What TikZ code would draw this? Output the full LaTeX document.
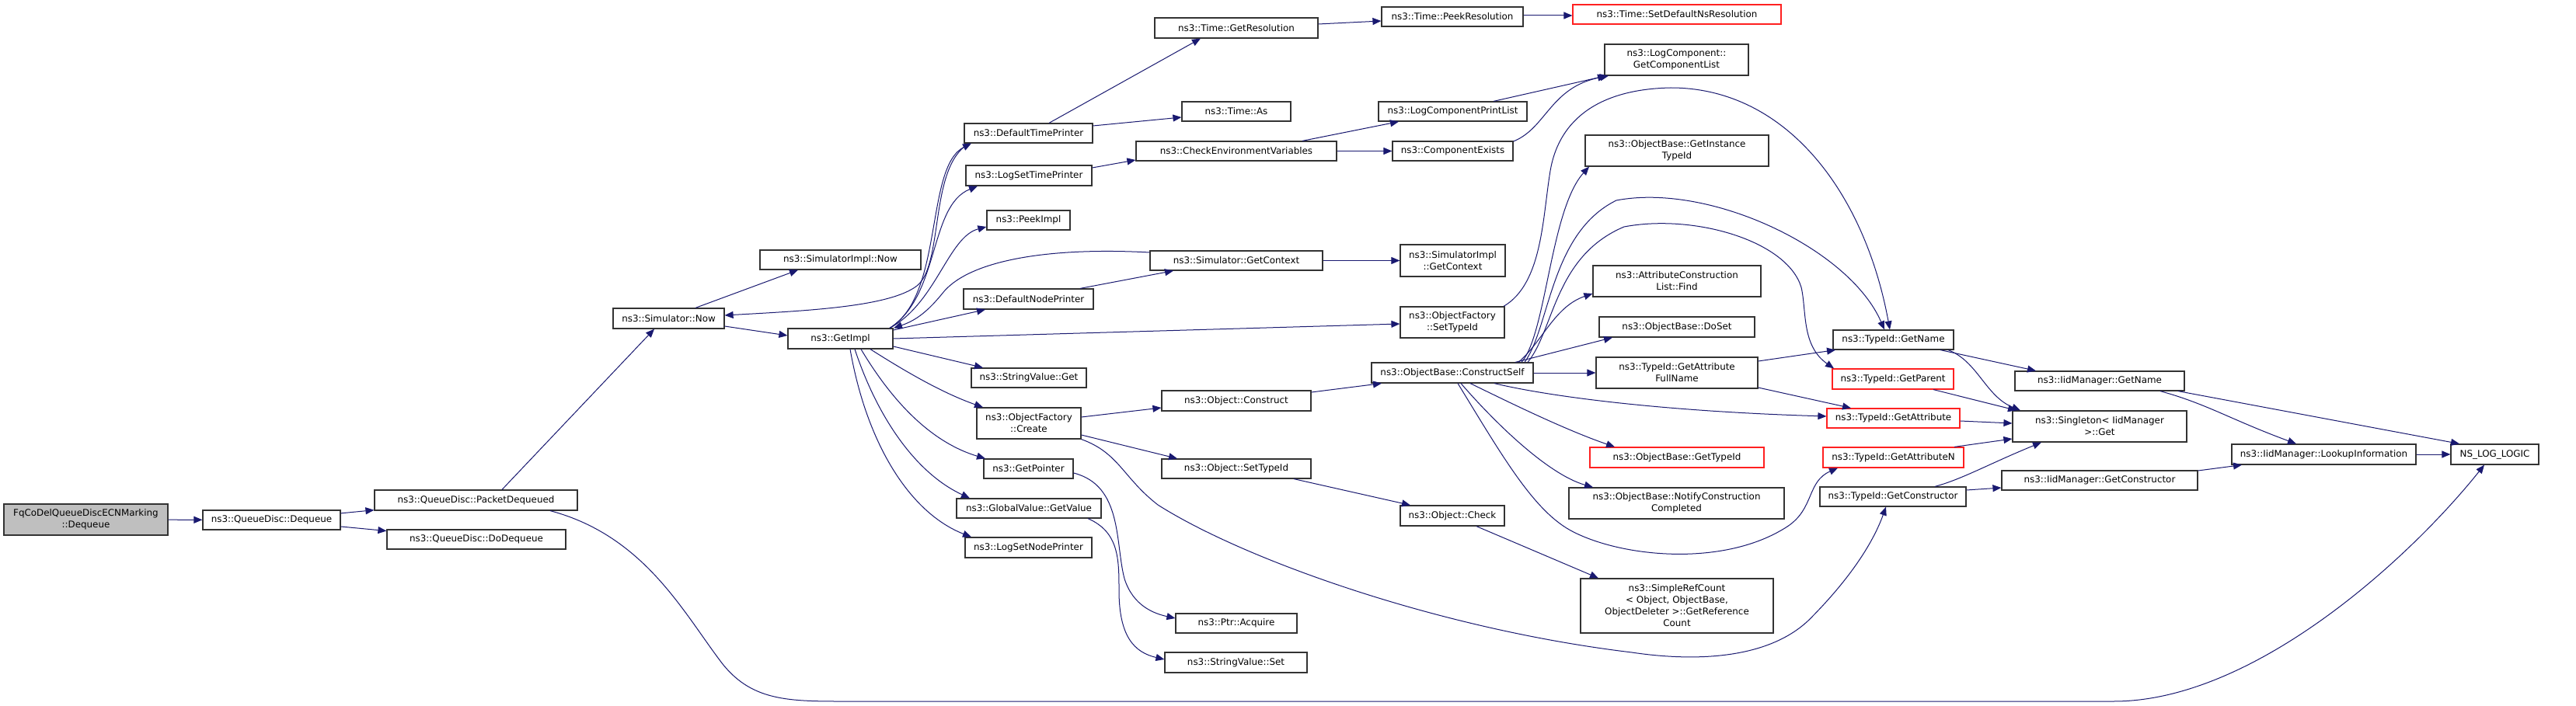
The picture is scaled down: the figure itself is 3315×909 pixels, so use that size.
\documentclass[tikz,border=0pt]{standalone}
\usepackage{fontspec}
\setmainfont{DejaVu Sans}
\usetikzlibrary{arrows.meta}
\definecolor{edgec}{HTML}{191970}
\definecolor{rootfill}{HTML}{BFBFBF}
\definecolor{boxc}{HTML}{333333}
\definecolor{redc}{HTML}{FF2020}
\tikzset{
  nd/.style={draw=boxc, line width=1.2pt, fill=white, inner sep=0pt, align=center, text=black},
  ndred/.style={nd, draw=redc},
  ndroot/.style={nd, fill=rootfill},
  edge/.style={draw=edgec, line width=1pt, -{Triangle[length=11pt,width=9pt]}}
}
\begin{document}
\begin{tikzpicture}[x=1pt, y=-1pt, font=\fontsize{11.9}{15}\selectfont]
\fill[white] (0,0) rectangle (3315,909);
\useasboundingbox (0,0) rectangle (3315,909);
% nodes
\node[ndroot, minimum width=211pt, minimum height=40pt] (root) at (110.5,669) {FqCoDelQueueDiscECNMarking\\::Dequeue};
\node[nd, minimum width=177pt, minimum height=25pt] (dq) at (349.5,669.5) {ns3::QueueDisc::Dequeue};
\node[nd, minimum width=261pt, minimum height=26pt] (pd) at (612.5,644) {ns3::QueueDisc::PacketDequeued};
\node[nd, minimum width=230pt, minimum height=25pt] (dd) at (613,694.5) {ns3::QueueDisc::DoDequeue};
\node[nd, minimum width=143pt, minimum height=26pt] (snow) at (860.5,410) {ns3::Simulator::Now};
\node[nd, minimum width=207pt, minimum height=25pt] (sinow) at (1081.5,334.5) {ns3::SimulatorImpl::Now};
\node[nd, minimum width=135pt, minimum height=26pt] (gi) at (1081.5,436) {ns3::GetImpl};
\node[nd, minimum width=165pt, minimum height=25pt] (dtp) at (1323.5,171.5) {ns3::DefaultTimePrinter};
\node[nd, minimum width=162pt, minimum height=26pt] (lstp) at (1324,226) {ns3::LogSetTimePrinter};
\node[nd, minimum width=107pt, minimum height=25pt] (peek) at (1323.5,283.5) {ns3::PeekImpl};
\node[nd, minimum width=167pt, minimum height=26pt] (dnp) at (1323.5,385) {ns3::DefaultNodePrinter};
\node[nd, minimum width=148pt, minimum height=25pt] (svget) at (1324,486.5) {ns3::StringValue::Get};
\node[nd, minimum width=134pt, minimum height=40pt] (ofc) at (1324,545) {ns3::ObjectFactory\\::Create};
\node[nd, minimum width=115pt, minimum height=25pt] (gp) at (1323.5,603.5) {ns3::GetPointer};
\node[nd, minimum width=186pt, minimum height=25pt] (gvgv) at (1324,654.5) {ns3::GlobalValue::GetValue};
\node[nd, minimum width=163pt, minimum height=26pt] (lsnp) at (1323.5,705) {ns3::LogSetNodePrinter};
\node[nd, minimum width=210pt, minimum height=26pt] (tgr) at (1591,36) {ns3::Time::GetResolution};
\node[nd, minimum width=140pt, minimum height=25pt] (tas) at (1591,143.5) {ns3::Time::As};
\node[nd, minimum width=258pt, minimum height=25pt] (cev) at (1591,194.5) {ns3::CheckEnvironmentVariables};
\node[nd, minimum width=222pt, minimum height=25pt] (sgc) at (1591,335.5) {ns3::Simulator::GetContext};
\node[nd, minimum width=192pt, minimum height=26pt] (oconst) at (1591,516) {ns3::Object::Construct};
\node[nd, minimum width=192pt, minimum height=25pt] (ostid) at (1591,603.5) {ns3::Object::SetTypeId};
\node[nd, minimum width=156pt, minimum height=25pt] (pacq) at (1591,802.5) {ns3::Ptr::Acquire};
\node[nd, minimum width=183pt, minimum height=26pt] (svset) at (1590.5,853) {ns3::StringValue::Set};
\node[nd, minimum width=182pt, minimum height=25pt] (tpr) at (1869,21.5) {ns3::Time::PeekResolution};
\node[nd, minimum width=191pt, minimum height=25pt] (lcpl) at (1869.5,143.5) {ns3::LogComponentPrintList};
\node[nd, minimum width=155pt, minimum height=25pt] (cex) at (1869.5,194.5) {ns3::ComponentExists};
\node[nd, minimum width=135pt, minimum height=41pt] (sigc) at (1869.5,335.5) {ns3::SimulatorImpl\\::GetContext};
\node[nd, minimum width=134pt, minimum height=40pt] (ofst) at (1869,415) {ns3::ObjectFactory\\::SetTypeId};
\node[nd, minimum width=208pt, minimum height=26pt] (ocs) at (1869,480) {ns3::ObjectBase::ConstructSelf};
\node[nd, minimum width=134pt, minimum height=26pt] (ochk) at (1869,664) {ns3::Object::Check};
\node[ndred, minimum width=268pt, minimum height=25pt] (sdnr) at (2158,18.5) {ns3::Time::SetDefaultNsResolution};
\node[nd, minimum width=185pt, minimum height=40pt] (lcgcl) at (2157.5,77) {ns3::LogComponent::\\GetComponentList};
\node[nd, minimum width=236pt, minimum height=40pt] (obgit) at (2158,194) {ns3::ObjectBase::GetInstance\\TypeId};
\node[nd, minimum width=216pt, minimum height=40pt] (acl) at (2158,362) {ns3::AttributeConstruction\\List::Find};
\node[nd, minimum width=200pt, minimum height=26pt] (obds) at (2158,421) {ns3::ObjectBase::DoSet};
\node[nd, minimum width=208pt, minimum height=40pt] (tgafn) at (2158,480) {ns3::TypeId::GetAttribute\\FullName};
\node[ndred, minimum width=224pt, minimum height=26pt] (obgt) at (2158,589) {ns3::ObjectBase::GetTypeId};
\node[nd, minimum width=277pt, minimum height=40pt] (obncc) at (2157.5,648) {ns3::ObjectBase::NotifyConstruction\\Completed};
\node[nd, minimum width=248pt, minimum height=70pt] (src) at (2158,780) {ns3::SimpleRefCount\\< Object, ObjectBase,\\ObjectDeleter >::GetReference\\Count};
\node[nd, minimum width=155pt, minimum height=25pt] (tgn) at (2436.5,437.5) {ns3::TypeId::GetName};
\node[ndred, minimum width=156pt, minimum height=26pt] (tgp) at (2436,488) {ns3::TypeId::GetParent};
\node[ndred, minimum width=171pt, minimum height=25pt] (tga) at (2436.5,538.5) {ns3::TypeId::GetAttribute};
\node[ndred, minimum width=181pt, minimum height=26pt] (tgan) at (2436.5,589) {ns3::TypeId::GetAttributeN};
\node[nd, minimum width=188pt, minimum height=25pt] (tgc) at (2436,639.5) {ns3::TypeId::GetConstructor};
\node[nd, minimum width=218pt, minimum height=25pt] (igname) at (2702,490.5) {ns3::IidManager::GetName};
\node[nd, minimum width=224pt, minimum height=40pt] (sing) at (2702,549) {ns3::Singleton< IidManager\\>::Get};
\node[nd, minimum width=252pt, minimum height=25pt] (igc) at (2702,618.5) {ns3::IidManager::GetConstructor};
\node[nd, minimum width=237pt, minimum height=26pt] (lookup) at (2990.5,585) {ns3::IidManager::LookupInformation};
\node[nd, minimum width=113pt, minimum height=26pt] (nslog) at (3210.5,585) {NS\_LOG\_LOGIC};
% edges
\draw[edge] (root) -- (dq);
\draw[edge] (dq) -- (pd);
\draw[edge] (dq) -- (dd);
\draw[edge] (pd.north -| 646,0) -- (snow.south -| 842,0);
\draw[edge] (pd.south -| 708,0) .. controls (830,690) and (880,790) .. (930,855) .. controls (970,905) and (1020,903) .. (1100,903) -- (2720,903) .. controls (2900,903) and (3100,720) .. (nslog.south -| 3197,0);
\draw[edge] (snow.north -| 895,0) -- (sinow.south -| 1027,0);
\draw[edge] (snow.east |- 0,420) -- (gi.west |- 0,432);
\draw[edge] (dtp.south -| 1247,0) .. controls (1195,215) and (1215,340) .. (1180,368) .. controls (1145,395) and (1040,400) .. (snow.east |- 0,406);
\draw[edge] (gi.north -| 1145,0) .. controls (1215,380) and (1190,215) .. (dtp.south -| 1250,0);
\draw[edge] (gi.north -| 1145,0) .. controls (1210,380) and (1195,265) .. (lstp.south -| 1258,0);
\draw[edge] (gi.north -| 1145,0) .. controls (1205,390) and (1220,305) .. (peek.west |- 0,292);
\draw[edge] (sgc.west |- 0,325) .. controls (1350,318) and (1250,335) .. (1215,375) .. controls (1195,400) and (1180,412) .. (gi.north -| 1150,0);
\draw[edge] (gi.east |- 0,425) -- (dnp.south -| 1268,0);
\draw[edge] (gi.east |- 0,436) -- (ofst.west |- 0,417);
\draw[edge] (gi.east |- 0,446) -- (svget.north -| 1265,0);
\draw[edge] (gi.south -| 1120,0) .. controls (1160,475) and (1210,505) .. (ofc.north -| 1265,0);
\draw[edge] (gi.south -| 1108,0) .. controls (1150,520) and (1200,570) .. (gp.north -| 1268,0);
\draw[edge] (gi.south -| 1100,0) .. controls (1130,540) and (1180,610) .. (gvgv.north -| 1248,0);
\draw[edge] (gi.south -| 1094,0) .. controls (1115,570) and (1170,660) .. (lsnp.north -| 1250,0);
\draw[edge] (dtp.north -| 1350,0) -- (tgr.south -| 1545,0);
\draw[edge] (dtp.east |- 0,162) -- (tas.west |- 0,151);
\draw[edge] (lstp.east |- 0,216) -- (cev.west |- 0,206);
\draw[edge] (sgc) -- (sigc);
\draw[edge] (dnp.north -| 1390,0) -- (sgc.south -| 1510,0);
\draw[edge] (tgr.east |- 0,31) -- (tpr.west |- 0,27);
\draw[edge] (tpr.east |- 0,20) -- (sdnr.west |- 0,20);
\draw[edge] (cev.north -| 1676,0) -- (lcpl.south -| 1800,0);
\draw[edge] (cev) -- (cex);
\draw[edge] (lcpl.north -| 1922,0) -- (lcgcl.south -| 2067,0);
\draw[edge] (cex.east |- 0,182) .. controls (1990,165) and (1995,112) .. (lcgcl.south -| 2070,0);
\draw[edge] (ofc.east |- 0,537) -- (oconst.west |- 0,525);
\draw[edge] (ofc.east |- 0,560) -- (ostid.north -| 1515,0);
\draw[edge] (ofc.south east) .. controls (1440,583) and (1445,615) .. (1490,650) .. controls (1600,720) and (1850,810) .. (2100,840) .. controls (2180,852) and (2280,850) .. (2333,793) .. controls (2380,745) and (2410,700) .. (tgc.south -| 2427,0);
\draw[edge] (gp.east |- 0,609) .. controls (1445,625) and (1435,700) .. (1447,745) .. controls (1458,780) and (1485,790) .. (pacq.west |- 0,796);
\draw[edge] (gvgv.south -| 1400,0) .. controls (1440,685) and (1440,720) .. (1440,760) .. controls (1440,820) and (1460,840) .. (svset.west |- 0,849);
\draw[edge] (oconst.east |- 0,505) -- (ocs.south -| 1778,0);
\draw[edge] (ostid.south -| 1665,0) -- (ochk.north -| 1815,0);
\draw[edge] (ochk.south -| 1900,0) -- (src.north -| 2057,0);
\draw[edge] (ofst.north -| 1935,0) .. controls (1985,365) and (1985,280) .. (1995,220) .. controls (2005,160) and (2050,115) .. (2150,113) .. controls (2300,113) and (2400,250) .. (tgn.north -| 2432,0);
\draw[edge] (ocs.north -| 1958,0) .. controls (1990,430) and (1995,270) .. (obgit.south -| 2045,0);
\draw[edge] (ocs.north -| 1962,0) .. controls (1995,420) and (1995,300) .. (2080,258) .. controls (2200,235) and (2380,320) .. (tgn.north -| 2425,0);
\draw[edge] (ocs.north -| 1966,0) .. controls (2000,425) and (2000,330) .. (2090,292) .. controls (2180,275) and (2300,310) .. (2318,370) .. controls (2325,400) and (2318,445) .. (tgp.north -| 2360,0);
\draw[edge] (ocs.north -| 1954,0) .. controls (1985,440) and (2000,395) .. (acl.west |- 0,378);
\draw[edge] (ocs.north -| 1950,0) -- (obds.south -| 2075,0);
\draw[edge] (ocs) -- (tgafn);
\draw[edge] (ocs.south -| 1923,0) .. controls (2000,512) and (2150,530) .. (tga.west |- 0,536);
\draw[edge] (ocs.south -| 1892,0) .. controls (1930,512) and (2010,552) .. (obgt.north -| 2078,0);
\draw[edge] (ocs.south -| 1880,0) .. controls (1920,540) and (1990,610) .. (obncc.north -| 2050,0);
\draw[edge] (ocs.south -| 1876,0) .. controls (1935,590) and (1975,660) .. (2025,685) .. controls (2090,718) and (2220,730) .. (2300,678) .. controls (2335,655) and (2325,620) .. (tgan.south -| 2365,0);
\draw[edge] (tgafn.east |- 0,465) -- (tgn.south -| 2362,0);
\draw[edge] (tgafn.east |- 0,499) -- (tga.north -| 2382,0);
\draw[edge] (tgn.south -| 2497,0) -- (igname.north -| 2620,0);
\draw[edge] (tgn.south -| 2507,0) .. controls (2545,465) and (2555,510) .. (sing.north -| 2600,0);
\draw[edge] (tgp.south -| 2488,0) -- (sing.north -| 2595,0);
\draw[edge] (tga.east |- 0,542) -- (sing.west |- 0,545);
\draw[edge] (tgan.north -| 2515,0) -- (sing.west |- 0,565);
\draw[edge] (tgc.north -| 2490,0) .. controls (2525,617) and (2560,597) .. (sing.south -| 2627,0);
\draw[edge] (tgc.east |- 0,631) -- (igc.west |- 0,628);
\draw[edge] (igname.south -| 2780,0) .. controls (2840,520) and (2870,540) .. (lookup.north -| 2955,0);
\draw[edge] (igname.south -| 2803,0) -- (nslog.north -| 3165,0);
\draw[edge] (igc.east |- 0,606) -- (lookup.south -| 2885,0);
\draw[edge] (lookup) -- (nslog);
\end{tikzpicture}
\end{document}
